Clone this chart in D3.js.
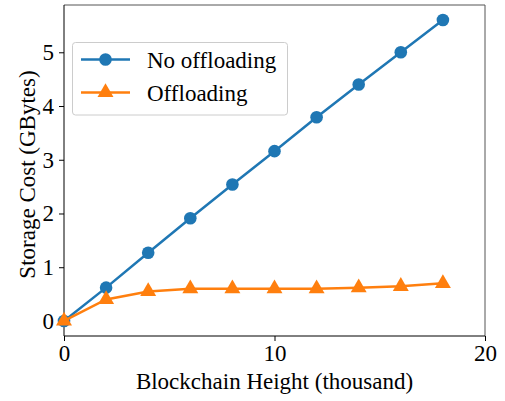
<!DOCTYPE html>
<html>
<head>
<meta charset="utf-8">
<script src="https://cdn.jsdelivr.net/npm/d3@7"></script>
<style>
  html, body { margin: 0; padding: 0; background: #fff; }
  svg { display: block; }
</style>
</head>
<body>
<svg id="chart" width="505" height="401"></svg>
<script>
// Blockchain height in thousands of blocks
const heights = [0, 2, 4, 6, 8, 10, 12, 14, 16, 18];
// Storage cost (GBytes) per strategy
const noOffloading = [0, 0.62, 1.27, 1.91, 2.54, 3.16, 3.79, 4.40, 5.00, 5.60];
const offloading = [0, 0.40, 0.55, 0.60, 0.60, 0.60, 0.60, 0.62, 0.645, 0.70];
const seriesNames = ["No offloading", "Offloading"];
const xTicks = [0, 10, 20];
const yTicks = [0, 1, 2, 3, 4, 5];
const xTitle = "Blockchain Height (thousand)";
const yTitle = "Storage Cost (GBytes)";

const FONT = "Liberation Serif";
const colors = ["#1f77b4", "#ff7f0e"];
const margin = { left: 64, right: 20, top: 5, bottom: 65 };
const W = 505, H = 401;
const svg = d3.select("#chart");

const x = d3.scaleLinear().domain([0, 20]).range([margin.left, W - margin.right]);
const yMax = d3.max(noOffloading);
const pad = yMax * 0.05;
const y = d3.scaleLinear().domain([-pad, yMax + pad]).range([H - margin.bottom, margin.top]);

const fs = 23;

// axes
const xAxis = svg.append("g")
  .attr("transform", `translate(0,${H - margin.bottom})`)
  .call(d3.axisBottom(x).tickValues(xTicks).tickSize(5).tickPadding(4).tickFormat(d3.format("d")));
const yAxis = svg.append("g")
  .attr("transform", `translate(${margin.left},0)`)
  .call(d3.axisLeft(y).tickValues(yTicks).tickSize(5).tickPadding(5).tickFormat(d3.format("d")));
[xAxis, yAxis].forEach(g => {
  g.attr("font-family", FONT).attr("font-size", fs);
  g.select(".domain").remove();
  g.selectAll("text").attr("font-size", fs).attr("font-family", FONT).attr("fill", "#000");
  g.selectAll("line").attr("stroke", "#000").attr("stroke-width", 1);
});

// frame
const x0 = margin.left, x1 = W - margin.right, y0 = margin.top, y1 = H - margin.bottom;
svg.append("line").attr("x1", x0).attr("x2", x1).attr("y1", y0).attr("y2", y0).attr("stroke", "#555").attr("stroke-width", 1);
svg.append("line").attr("x1", x1).attr("x2", x1).attr("y1", y0).attr("y2", y1).attr("stroke", "#555").attr("stroke-width", 1);
svg.append("line").attr("x1", x0).attr("x2", x1).attr("y1", y1).attr("y2", y1).attr("stroke", "#000").attr("stroke-width", 1);
svg.append("line").attr("x1", x0).attr("x2", x0).attr("y1", y0).attr("y2", y1).attr("stroke", "#000").attr("stroke-width", 1);

// axis titles
svg.append("text")
  .attr("x", (x0 + x1) / 2).attr("y", 389)
  .attr("text-anchor", "middle").attr("font-family", FONT).attr("font-size", fs).text(xTitle);
svg.append("text")
  .attr("transform", `translate(35,${(y0 + y1) / 2 + 4}) rotate(-90)`)
  .attr("text-anchor", "middle").attr("font-family", FONT).attr("font-size", fs).text(yTitle);

const line = d3.line().x((d, i) => x(heights[i])).y(d => y(d));
const data = [noOffloading, offloading];
const plot = svg.append("g");
const circleSym = d3.symbol().type(d3.symbolCircle).size(Math.PI * 6.3 * 6.3);
const triSym = d3.symbol().type(d3.symbolTriangle).size(110);
const syms = [circleSym, triSym];

data.forEach((vals, k) => {
  plot.append("path").datum(vals)
    .attr("d", line).attr("fill", "none")
    .attr("stroke", colors[k]).attr("stroke-width", 2.5);
  plot.selectAll(null).data(vals).enter().append("path")
    .attr("transform", (d, i) => `translate(${x(heights[i])},${y(d)})`)
    .attr("d", syms[k]()).attr("fill", colors[k]);
});

// legend
const lg = svg.append("g");
lg.append("rect").attr("x", 72.5).attr("y", 42.5).attr("width", 215).attr("height", 72.5)
  .attr("rx", 3).attr("fill", "#fff").attr("fill-opacity", 0.8).attr("stroke", "#ccc");
const rows = [59.5, 92.5];
seriesNames.forEach((name, k) => {
  lg.append("line").attr("x1", 81).attr("x2", 130).attr("y1", rows[k]).attr("y2", rows[k])
    .attr("stroke", colors[k]).attr("stroke-width", 2.5);
  lg.append("path").attr("transform", `translate(105.5,${rows[k]})`).attr("d", syms[k]()).attr("fill", colors[k]);
  lg.append("text").attr("x", 147).attr("y", rows[k] + 8)
    .attr("font-family", FONT).attr("font-size", fs).text(name);
});
</script>
</body>
</html>
